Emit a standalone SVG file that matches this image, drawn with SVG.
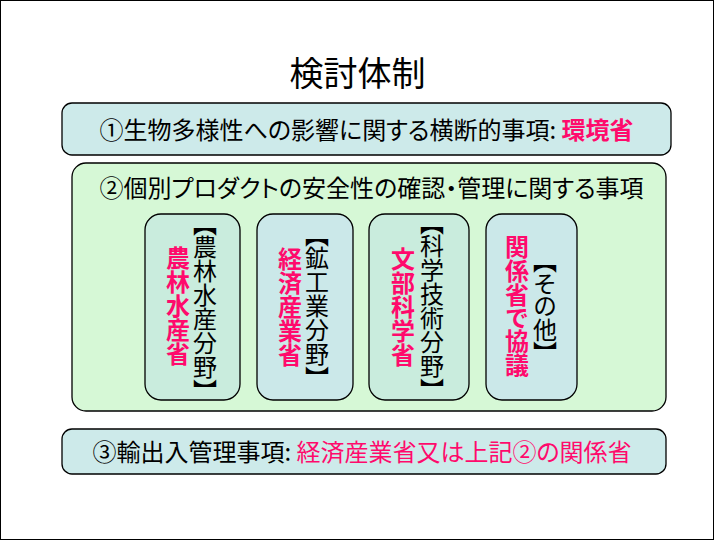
<svg xmlns="http://www.w3.org/2000/svg" width="715" height="541" viewBox="0 0 715 541">
<style>
text{font-family:"Noto Sans CJK JP","Noto Sans CJK SC",sans-serif;}
.box{stroke:#000;stroke-width:1.3;}
.teal{fill:#cdeaea;}
.green{fill:#d6f8d6;}
.ig{fill:#c9ecdd;}
.ib{fill:#cbe8e9;}
.h{font-size:24px;text-anchor:middle;fill:#000;font-feature-settings:"palt" 1;}
.pk{fill:#ff0a6c;}
.b{font-weight:bold;}
.v{font-size:24px;writing-mode:vertical-rl;text-anchor:middle;font-feature-settings:"vpal" 1;}
.vk{fill:#000;}
.vp{fill:#ff0a6c;font-weight:bold;}
</style>
<rect x="0.5" y="0.5" width="713" height="539" fill="#fff" stroke="#000" stroke-width="1"/>
<g id="title"><text x="357.5" y="86" style="font-size:34px;text-anchor:middle;fill:#000">検討体制</text></g>
<g id="box1">
<rect class="box teal" x="62" y="103" width="609" height="52" rx="10"/>
<text class="h" x="366.5" y="139">①生物多様性への影響に関する横断的事項: <tspan class="pk b">環境省</tspan></text>
</g>
<g id="box2">
<rect class="box green" x="72" y="163" width="594" height="248" rx="14"/>
<text class="h" x="371.5" y="197">②個別プロダクトの安全性の確認・管理に関する事項</text>
</g>
<g id="agri">
<rect class="box ig" x="145" y="214" width="95" height="186" rx="16"/>
<text class="v vp" x="178" y="306">農林水産省</text>
<text class="v vk" x="205" y="307">【農林水産分野】</text>
</g>
<g id="meti">
<rect class="box ib" x="257" y="214" width="96" height="186" rx="16"/>
<text class="v vp" x="290" y="307">経済産業省</text>
<text class="v vk" x="317" y="306">【鉱工業分野】</text>
</g>
<g id="mext">
<rect class="box ig" x="369" y="214" width="100" height="186" rx="16"/>
<text class="v vp" x="403" y="307">文部科学省</text>
<text class="v vk" x="432" y="306">【科学技術分野】</text>
</g>
<g id="other">
<rect class="box ib" x="486" y="214" width="91" height="186" rx="16"/>
<text class="v vp" x="517" y="306">関係省で協議</text>
<text class="v vk" x="545" y="307">【その他】</text>
</g>
<g id="box3">
<rect class="box teal" x="62" y="429" width="604" height="45" rx="10"/>
<text class="h" x="362" y="461">③輸出入管理事項: <tspan class="pk">経済産業省又は上記②の関係省</tspan></text>
</g>
<g id="connectors"></g>
</svg>
